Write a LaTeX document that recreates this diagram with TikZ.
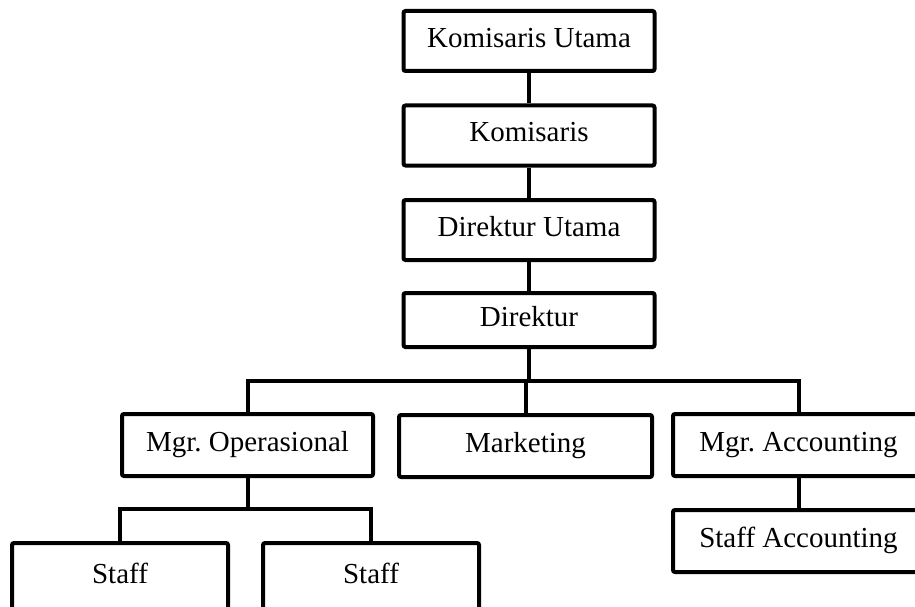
\documentclass[tikz,border=0pt]{standalone}
\usepackage{fontspec}
\setmainfont{Liberation Serif}
\usetikzlibrary{calc}
\frenchspacing
\tikzset{
	post/.style = {draw, line width=4pt, rounded corners=2pt, fill=white,
		minimum width=251pt, minimum height=60pt, inner sep=0pt,
		text height=19pt, text depth=6pt, font=\fontsize{29}{34}\selectfont},
	staffpost/.style = {post, minimum width=216pt, minimum height=68pt},
	link/.style = {line width=4pt}
}

\begin{document}
\begin{tikzpicture}[x=1pt,y=-1pt]
	\clip (0,0) rectangle (915,607);
	\node[post] (ku) at (529,41) {Komisaris Utama};
	\node[post] (k) at (529,135.5) {Komisaris};
	\node[post] (du) at (529,230) {Direktur Utama};
	\node[post,minimum height=54pt] (d) at (529,320) {Direktur};
	\node[post,minimum height=62pt] (mo) at (247.5,445) {Mgr. Operasional};
	\node[post,minimum height=62pt,minimum width=253pt] (mk) at (525.5,446) {Marketing};
	\node[post,minimum height=62pt] (ma) at (798.5,445) {Mgr. Accounting};
	\node[post,minimum height=62pt] (sa) at (798.5,541) {Staff Accounting};
	\node[staffpost] (s1) at (120,577) {Staff};
	\node[staffpost] (s2) at (371,577) {Staff};
	\coordinate (bus) at (0,381);
	\coordinate (bus2) at (0,509);
	\draw[link] (ku.south) -- (k.north);
	\draw[link] (k.south) -- (du.north);
	\draw[link] (du.south) -- (d.north);
	\draw[link] (d.south) -- (d.south |- bus);
	\draw[link] (mo.north) |- (bus -| ma.north) -- (ma.north);
	\draw[link] (mk.north) -- (mk.north |- bus);
	\draw[link] (mo.south) -- (mo.south |- bus2);
	\draw[link] (s1.north) |- (bus2 -| s2.north) -- (s2.north);
	\draw[link] (ma.south) -- (sa.north);
\end{tikzpicture}
\end{document}
